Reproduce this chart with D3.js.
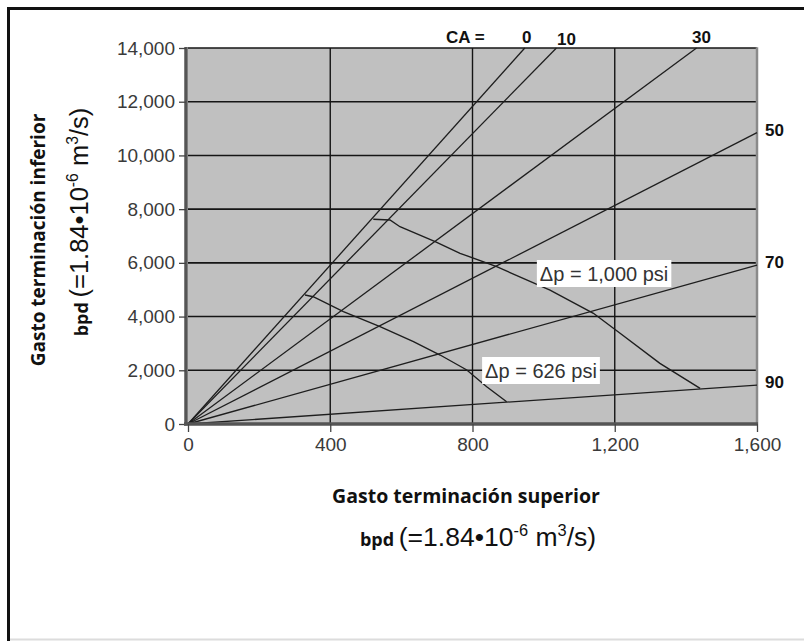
<!DOCTYPE html>
<html><head><meta charset="utf-8">
<script src="https://cdn.jsdelivr.net/npm/d3@7"></script>
<style>body{margin:0;background:#fff}svg{display:block}</style>
</head><body>
<svg id="chart" width="804" height="641"></svg>
<script>
// ---- data ----
const caLabels = ["0", "10", "30", "50", "70", "90"];
const caEndX   = [947, 1036, 1430, 1600, 1600, 1600];
const caEndY   = [14000, 14000, 14000, 10850, 5920, 1450];

const dp1000X = [521, 568, 596, 695, 765, 868, 1018, 1140, 1215, 1327, 1440];
const dp1000Y = [7622, 7596, 7346, 6788, 6356, 5857, 4989, 4122, 3377, 2260, 1329];

const dp626X = [329, 352, 437, 540, 634, 709, 784, 840, 896];
const dp626Y = [4803, 4740, 4181, 3623, 3064, 2569, 2011, 1389, 830];

const dpLabels = ["Δp = 1,000 psi", "Δp = 626 psi"];
const dpLabelX = [981, 827];
const dpLabelY = [5604, 1992];

const xTicks = [0, 400, 800, 1200, 1600];
const yTicks = [0, 2000, 4000, 6000, 8000, 10000, 12000, 14000];
const xGrid = [400, 800, 1200];
const yGrid = [2000, 4000, 6000, 8000, 10000, 12000, 14000];

// ---- drawing ----
const svg = d3.select("#chart");
const x = d3.scaleLinear().domain([0, 1600]).range([188, 757]);
const y = d3.scaleLinear().domain([0, 14000]).range([424, 48]);
const fmt = d3.format(",");
const SANS = "'Liberation Sans', Arial, sans-serif";
const BOLD = "'Open Sans', 'Noto Sans', sans-serif";

// outer frame
svg.append("line").attr("x1", 8.5).attr("x2", 8.5).attr("y1", 7).attr("y2", 641)
  .attr("stroke", "#111").attr("stroke-width", 3);
svg.append("line").attr("x1", 7).attr("x2", 804).attr("y1", 8.5).attr("y2", 8.5)
  .attr("stroke", "#111").attr("stroke-width", 3);
svg.append("line").attr("x1", 10).attr("x2", 804).attr("y1", 639.5).attr("y2", 639.5)
  .attr("stroke", "#dcdcdc").attr("stroke-width", 2);

// plot background
svg.append("rect")
  .attr("x", x(0)).attr("y", y(14000))
  .attr("width", x(1600) - x(0)).attr("height", y(0) - y(14000))
  .attr("fill", "#c0c0c0");

// grid
svg.append("g").selectAll("line").data(yGrid).join("line")
  .attr("x1", x(0)).attr("x2", x(1600))
  .attr("y1", d => y(d)).attr("y2", d => y(d))
  .attr("stroke", "#151515").attr("stroke-width", 1.6);
svg.append("g").selectAll("line").data(xGrid).join("line")
  .attr("x1", d => x(d)).attr("x2", d => x(d))
  .attr("y1", y(0)).attr("y2", y(14000))
  .attr("stroke", "#151515").attr("stroke-width", 1.4);
// right border
svg.append("line").attr("x1", x(1600)).attr("x2", x(1600))
  .attr("y1", y(0)).attr("y2", y(14000) - 0.8)
  .attr("stroke", "#8a8a8a").attr("stroke-width", 2.5);

// CA rays
const rays = caLabels.map((c, i) => ({ c, x: caEndX[i], y: caEndY[i] }));
svg.append("g").selectAll("line").data(rays).join("line")
  .attr("x1", x(0)).attr("y1", y(0))
  .attr("x2", d => x(d.x)).attr("y2", d => y(d.y))
  .attr("stroke", "#1e1e1e").attr("stroke-width", 1.3);

// dp curves
const line = d3.line().x(d => x(d[0])).y(d => y(d[1]));
const curves = [d3.zip(dp1000X, dp1000Y), d3.zip(dp626X, dp626Y)];
svg.append("g").selectAll("path").data(curves).join("path")
  .attr("d", line).attr("fill", "none")
  .attr("stroke", "#1e1e1e").attr("stroke-width", 1.4);

// dp labels with white boxes
const dpG = svg.append("g").selectAll("g").data(dpLabels).join("g")
  .attr("transform", (d, i) => `translate(${x(dpLabelX[i])},${y(dpLabelY[i])})`);
const dpText = dpG.append("text").text(d => d)
  .attr("x", 3).attr("dy", "0.36em")
  .attr("font-family", SANS).attr("font-size", 20).attr("fill", "#333");
dpText.each(function () {
  const b = this.getBBox();
  d3.select(this.parentNode).insert("rect", "text")
    .attr("x", 0).attr("y", -13.5)
    .attr("width", b.width + 6).attr("height", 27)
    .attr("fill", "#fff");
});

// axes
const yAxis = svg.append("g").attr("transform", `translate(${x(0) - 2},0)`)
  .call(d3.axisLeft(y).tickValues(yTicks).tickFormat(fmt).tickSize(7).tickSizeOuter(0).tickPadding(4));
const xAxis = svg.append("g").attr("transform", `translate(0,${y(0)})`)
  .call(d3.axisBottom(x).tickValues(xTicks).tickFormat(fmt).tickSize(8).tickSizeOuter(0).tickPadding(6));
[yAxis, xAxis].forEach(g => {
  g.select(".domain").attr("stroke", "#555").attr("stroke-width", 3.5);
  g.selectAll(".tick line").attr("stroke", "#444").attr("stroke-width", 1.3);
  g.selectAll(".tick text").attr("font-family", SANS).attr("font-size", 19).attr("fill", "#3a3a3a");
});
yAxis.select(".domain").attr("d", `M0,${y(14000) - 1}V${y(0) + 1.5}`);
xAxis.select(".domain").attr("d", `M${x(0) - 4},0H${x(1600) + 1}`);

// CA labels
svg.append("text").text("CA =")
  .attr("x", 446).attr("y", 43)
  .attr("font-family", SANS).attr("font-weight", "bold").attr("font-size", 17).attr("fill", "#111");
svg.append("g").selectAll("text").data(rays).join("text")
  .text(d => d.c)
  .attr("x", d => d.y >= 14000 ? x(d.x) + (d.c === "0" ? 2 : d.c === "10" ? 10 : 5) : x(1600) + 8)
  .attr("y", d => d.y >= 14000 ? y(14000) - (d.c === "10" ? 3 : 5) : y(d.y) - 3)
  .attr("dy", d => d.y >= 14000 ? 0 : "0.36em")
  .attr("text-anchor", d => d.y >= 14000 ? "middle" : "start")
  .attr("font-family", SANS).attr("font-weight", "bold").attr("font-size", 17).attr("fill", "#111");

// axis titles
svg.append("text").text("Gasto terminación superior")
  .attr("x", 466).attr("y", 496).attr("dy", "0.35em").attr("text-anchor", "middle")
  .attr("font-family", BOLD).attr("font-weight", "bold").attr("font-size", 19.5).attr("fill", "#111");

function unitsLabel(sel, big) {
  sel.append("tspan").text("bpd ").attr("font-family", BOLD).attr("font-weight", "bold").attr("font-size", 18);
  sel.append("tspan").text("(=1.84•10").attr("font-size", big);
  sel.append("tspan").text("-6").attr("font-size", big * 0.62).attr("dy", -big * 0.38);
  sel.append("tspan").text(" m").attr("font-size", big).attr("dy", big * 0.38);
  sel.append("tspan").text("3").attr("font-size", big * 0.62).attr("dy", -big * 0.38);
  sel.append("tspan").text("/s)").attr("font-size", big).attr("dy", big * 0.38);
}
const xu = svg.append("text").attr("x", 478).attr("y", 546).attr("text-anchor", "middle")
  .attr("font-family", SANS).attr("fill", "#111");
unitsLabel(xu, 26.5);

svg.append("text").text("Gasto terminación inferior")
  .attr("transform", "translate(38,240) rotate(-90)")
  .attr("dy", "0.35em").attr("text-anchor", "middle")
  .attr("font-family", BOLD).attr("font-weight", "bold").attr("font-size", 19).attr("fill", "#111");
const yu = svg.append("text").attr("transform", "translate(88,222) rotate(-90)").attr("text-anchor", "middle")
  .attr("font-family", SANS).attr("fill", "#111");
unitsLabel(yu, 25.5);
</script>
</body></html>
